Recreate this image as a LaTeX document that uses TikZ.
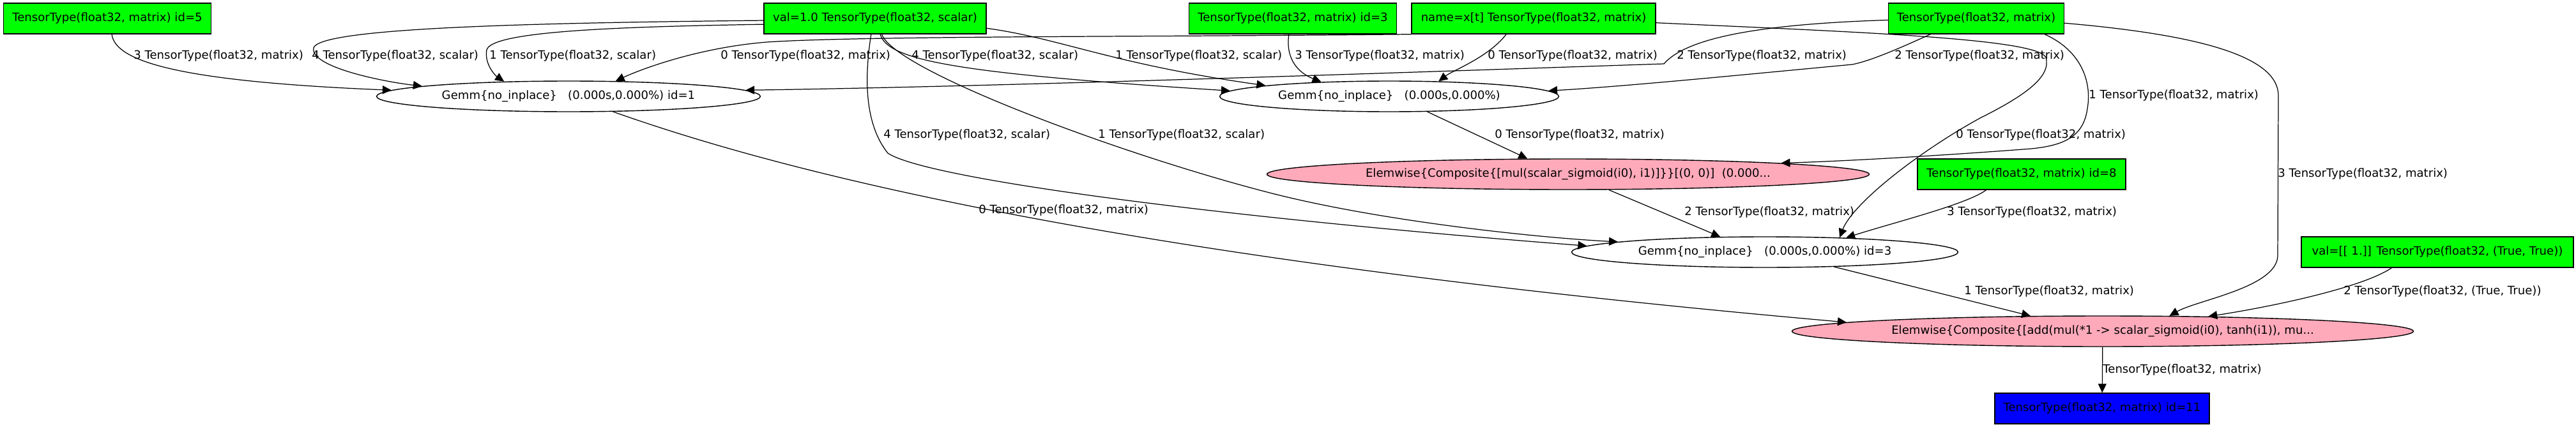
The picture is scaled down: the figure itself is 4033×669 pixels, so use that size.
\documentclass[tikz,border=0pt]{standalone}
\usepackage{fontspec}
\setmainfont{DejaVu Sans}
\usepackage{tikz}
\usetikzlibrary{positioning, shapes.geometric, arrows.meta}
\usepackage{xcolor}
\definecolor{invargreen}{HTML}{00FF00}
\definecolor{outvarblue}{HTML}{0000FF}
\definecolor{elempink}{HTML}{FFAABB}

\begin{document}
\begin{tikzpicture}[x=0.02cm, y=-0.02cm, font=\fontsize{10.3}{12}\selectfont,
    invar/.style={draw, fill=invargreen, line width=0.8pt, minimum height=0.96cm, inner sep=0pt},
    outvar/.style={invar, fill=outvarblue},
    applynode/.style={draw, ellipse, line width=0.8pt, minimum height=0.96cm, inner sep=0pt},
    elemnode/.style={applynode, fill=elempink},
    flow/.style={line width=0.7pt, -{Triangle[length=0.28cm, width=0.26cm]}},
    lbl/.style={anchor=west, inner sep=0pt}]
    \useasboundingbox (0,0) rectangle (4033,669);

    \node[invar, minimum width=6.5cm] (id5) at (168,29) {TensorType(float32, matrix) id=5};
    \node[invar, minimum width=6.96cm] (one) at (1370,29) {val=1.0 TensorType(float32, scalar)};
    \node[invar, minimum width=6.5cm] (id3) at (2024,29) {TensorType(float32, matrix) id=3};
    \node[invar, minimum width=7.64cm] (xt) at (2401,29) {name=x[t] TensorType(float32, matrix)};
    \node[invar, minimum width=5.5cm] (hprev) at (3094,29) {TensorType(float32, matrix)};
    \node[invar, minimum width=6.52cm] (id8) at (3165,273) {TensorType(float32, matrix) id=8};
    \node[invar, minimum width=8.52cm] (val1) at (3816,395) {val=[[ 1.]] TensorType(float32, (True, True))};
    \node[outvar, minimum width=6.72cm] (out) at (3291,640) {TensorType(float32, matrix) id=11};

    \node[applynode, minimum width=12.02cm] (g1) at (890,151) {Gemm\{no\_inplace\}\ \ \ (0.000s,0.000\%) id=1};
    \node[applynode, minimum width=10.62cm] (g2) at (2175,151) {Gemm\{no\_inplace\}\ \ \ (0.000s,0.000\%)};
    \node[elemnode, minimum width=18.86cm] (esig) at (2455,273) {Elemwise\{Composite\{[mul(scalar\_sigmoid(i0), i1)]\}\}[(0, 0)]\ \ (0.000...};
    \node[applynode, minimum width=12.1cm] (g3) at (2763,395) {Gemm\{no\_inplace\}\ \ \ (0.000s,0.000\%) id=3};
    \node[elemnode, minimum width=19.46cm] (eadd) at (3292,519) {Elemwise\{Composite\{[add(mul(*1 -> scalar\_sigmoid(i0), tanh(i1)), mu...};

    \draw[flow] (id5.-74) .. controls (180,98) and (290,128) .. (g1.178);
    \draw[flow] (one.-179) .. controls (800,36) and (500,45) .. (491,75) .. controls (485,105) and (600,128) .. (g1.176);
    \draw[flow] (one.-177) .. controls (950,42) and (770,50) .. (762,78) .. controls (758,100) and (775,118) .. (g1.167);
    \draw[flow] (xt.south west) .. controls (1800,58) and (1350,56) .. (1200,66) .. controls (1090,75) and (1000,110) .. (g1.18);
    \draw[flow] (hprev.-179) .. controls (2750,38) and (2640,60) .. (2605,100) .. controls (2300,110) and (1600,135) .. (g1.2);
    \draw[flow] (one.-72) .. controls (1390,95) and (1500,115) .. (g2.178);
    \draw[flow] (one.-5) .. controls (1660,60) and (1740,100) .. (g2.175);
    \draw[flow] (id3.-104) .. controls (2012,95) and (2035,115) .. (g2.168);
    \draw[flow] (xt.-150) .. controls (2330,90) and (2275,110) .. (g2.17);
    \draw[flow] (hprev.-161) .. controls (2975,75) and (2930,95) .. (2900,101) .. controls (2750,115) and (2550,135) .. (g2.2);
    \draw[flow] (hprev.-13) .. controls (3260,80) and (3275,130) .. (3268,170) .. controls (3262,215) and (3230,228) .. (3180,233) .. controls (3050,243) and (2900,252) .. (esig.3);
    \draw[flow] (xt.-2) .. controls (2900,50) and (3190,60) .. (3203,90) .. controls (3212,120) and (3170,150) .. (3100,185) .. controls (3000,240) and (2900,320) .. (g3.11);
    \draw[flow] (one.-104) .. controls (1355,110) and (1350,190) .. (1390,240) .. controls (1450,280) and (1900,340) .. (g3.178);
    \draw[flow] (one.-67) .. controls (1400,110) and (1750,240) .. (1980,300) .. controls (2150,345) and (2400,372) .. (g3.176);
    \draw[flow] (g1.-19) .. controls (1200,260) and (1700,400) .. (eadd.178);
    \draw[flow] (g2.-22) -- (esig.159);
    \draw[flow] (esig.-21) -- (g3.161);
    \draw[flow] (id8.-156) .. controls (3080,320) and (2960,350) .. (g3.10);
    \draw[flow] (g3.-12) -- (eadd.168);
    \draw[flow] (hprev.-3) .. controls (3450,55) and (3567,90) .. (3567,150) -- (3566,400) .. controls (3566,450) and (3440,470) .. (eadd.13);
    \draw[flow] (val1.-161) .. controls (3700,450) and (3560,480) .. (eadd.8);
    \draw[flow] (eadd) -- (out);

    \node[lbl] (l1) at (209,88) {3 TensorType(float32, matrix)};
    \node[lbl] (l2) at (488,88) {4 TensorType(float32, scalar)};
    \node[lbl] (l3) at (766,88) {1 TensorType(float32, scalar)};
    \node[lbl] (l4) at (1128,88) {0 TensorType(float32, matrix)};
    \node[lbl] (l5) at (1427,88) {4 TensorType(float32, scalar)};
    \node[lbl] (l6) at (1746,88) {1 TensorType(float32, scalar)};
    \node[lbl] (l7) at (2027,88) {3 TensorType(float32, matrix)};
    \node[lbl] (l8) at (2329,88) {0 TensorType(float32, matrix)};
    \node[lbl] (l9) at (2625,88) {2 TensorType(float32, matrix)};
    \node[lbl] (l10) at (2966,88) {2 TensorType(float32, matrix)};
    \node[lbl] (l11) at (3270,150) {1 TensorType(float32, matrix)};
    \node[lbl] (l12) at (2340,212) {0 TensorType(float32, matrix)};
    \node[lbl] (l13) at (3062,212) {0 TensorType(float32, matrix)};
    \node[lbl] (l14) at (1383,212) {4 TensorType(float32, scalar)};
    \node[lbl] (l15) at (1719,212) {1 TensorType(float32, scalar)};
    \node[lbl] (l16) at (3566,273) {3 TensorType(float32, matrix)};
    \node[lbl] (l17) at (1532,330) {0 TensorType(float32, matrix)};
    \node[lbl] (l18) at (2637,333) {2 TensorType(float32, matrix)};
    \node[lbl] (l19) at (3048,333) {3 TensorType(float32, matrix)};
    \node[lbl] (l20) at (3075,457) {1 TensorType(float32, matrix)};
    \node[lbl] (l21) at (3669,457) {2 TensorType(float32, (True, True))};
    \node[lbl] (l22) at (3292,580) {TensorType(float32, matrix)};
\end{tikzpicture}
\end{document}
